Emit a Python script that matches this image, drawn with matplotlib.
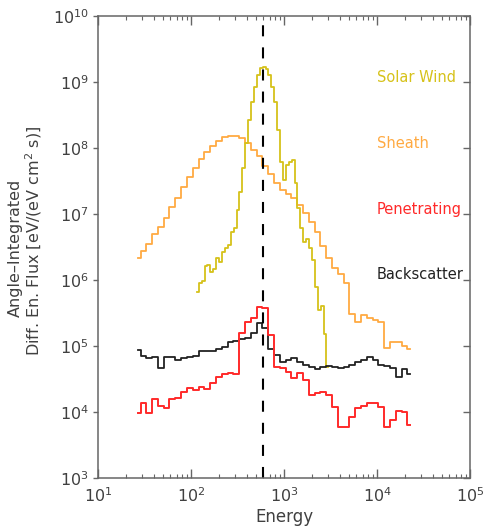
import matplotlib
matplotlib.use('Agg')
import matplotlib.pyplot as plt
from matplotlib.ticker import LogLocator, NullLocator, NullFormatter

# energy table (eV) shared by sheath, penetrating and backscatter
energy = [26.6, 30.7, 35.4, 40.9, 47.2, 54.5, 62.9, 72.7, 83.9, 96.8,
          111.8, 129.1, 149.0, 172.0, 198.6, 229.2, 264.6, 305.5, 352.6, 407.1,
          469.9, 542.6, 626.2, 723.0, 834.7, 963.6, 1112, 1284, 1483, 1712,
          1976, 2281, 2634, 3040, 3510, 4052, 4677, 5399, 6233, 7196,
          8308, 9590, 11070, 12780, 14750, 17030, 19670, 22700]

sheath = [2.18e6, 2.78e6, 3.51e6, 4.97e6, 6.42e6, 8.61e6, 1.26e7, 1.73e7, 2.54e7, 3.60e7,
          5.03e7, 6.81e7, 8.61e7, 1.08e8, 1.26e8, 1.45e8, 1.54e8, 1.52e8, 1.42e8, 1.18e8,
          9.33e7, 7.49e7, 5.39e7, 4.04e7, 2.98e7, 2.27e7, 2.01e7, 1.72e7, 1.37e7, 1.05e7,
          7.64e6, 5.39e6, 3.27e6, 2.13e6, 1.50e6, 1.23e6, 8.91e5, 3.05e5, 2.33e5, 2.95e5,
          2.63e5, 2.48e5, 2.33e5, 9.22e4, 1.13e5, 1.16e5, 1.00e5, 9.00e4]

penetrating = [9.75e3, 1.38e4, 9.75e3, 1.56e4, 1.23e4, 1.14e4, 1.56e4, 1.61e4, 2.03e4, 2.29e4,
               2.15e4, 2.42e4, 2.21e4, 2.72e4, 3.43e4, 3.77e4, 3.94e4, 3.77e4, 1.56e5, 2.33e5,
               2.65e5, 3.94e5, 3.72e5, 1.47e5, 4.85e4, 4.59e4, 4.08e4, 3.24e4, 3.86e4, 3.05e4,
               1.81e4, 1.92e4, 2.03e4, 1.81e4, 1.20e4, 5.98e3, 5.98e3, 8.49e3, 1.14e4, 1.23e4,
               1.38e4, 1.38e4, 1.20e4, 5.98e3, 7.56e3, 1.05e4, 1.01e4, 6.35e3]

backscatter = [8.70e4, 7.05e4, 6.51e4, 6.74e4, 4.59e4, 6.74e4, 6.88e4, 6.14e4, 6.51e4, 6.74e4,
               7.05e4, 8.49e4, 8.40e4, 8.49e4, 8.91e4, 9.75e4, 1.16e5, 1.20e5, 1.26e5, 1.31e5,
               1.60e5, 2.21e5, 1.89e5, 8.91e4, 7.31e4, 5.78e4, 6.14e4, 6.51e4, 5.78e4, 5.15e4,
               4.85e4, 4.49e4, 4.85e4, 4.98e4, 4.75e4, 4.59e4, 4.85e4, 5.15e4, 5.78e4, 6.14e4,
               6.74e4, 6.14e4, 5.15e4, 4.98e4, 4.59e4, 3.36e4, 4.44e4, 3.72e4]

# solar wind uses a finer energy table
sw_energy = [116.9, 125.6, 134.9, 145.0, 155.8, 167.4, 179.8, 193.2, 207.7, 223.1,
             239.7, 257.6, 276.7, 297.4, 319.5, 343.4, 368.9, 396.4, 425.9, 457.6,
             491.7, 528.4, 567.7, 610.0, 655.5, 704.3, 756.8, 813.2, 873.8, 938.9,
             1009, 1084, 1165, 1252, 1345, 1445, 1552, 1668, 1792, 1926,
             2069, 2223, 2389, 2567, 2758, 2963]

solar_wind = [6.65e5, 8.90e5, 9.70e5, 1.63e6, 1.66e6, 1.32e6, 1.47e6, 2.13e6, 1.87e6, 2.66e6,
              3.02e6, 3.39e6, 5.33e6, 6.13e6, 1.15e7, 2.15e7, 4.92e7, 1.18e8, 2.66e8, 5.03e8,
              8.49e8, 1.28e9, 1.65e9, 1.71e9, 1.57e9, 1.28e9, 8.49e8, 5.03e8, 1.87e8, 6.20e7,
              3.27e7, 5.52e7, 6.20e7, 6.58e7, 2.92e7, 1.22e7, 6.13e6, 3.80e6, 4.14e6, 3.02e6,
              2.01e6, 7.90e5, 3.51e5, 4.04e5, 1.52e5, 4.85e4]

e_ref = 600

c_sw = '#d6c21a'
c_sh = '#ffaa42'
c_pen = '#ff2a2a'
c_bs = '#222222'
axc = '#666666'
txtc = '#404040'

plt.rcParams['font.family'] = 'DejaVu Sans'
plt.rcParams['mathtext.fontset'] = 'dejavusans'

fig = plt.figure(figsize=(4.84, 5.27), dpi=100)
ax = fig.add_axes([0.2025, 0.093, 0.7686, 0.8767])

ax.plot(energy, sheath, drawstyle='steps-mid', color=c_sh, lw=1.3)
ax.plot(sw_energy, solar_wind, drawstyle='steps-mid', color=c_sw, lw=1.3)
ax.plot(energy, backscatter, drawstyle='steps-mid', color=c_bs, lw=1.3)
ax.plot(energy, penetrating, drawstyle='steps-mid', color=c_pen, lw=1.4)
ax.axvline(e_ref, color='black', lw=1.5, ls=(0, (5.3, 5.3)))

ax.set_xscale('log')
ax.set_yscale('log')
ax.set_xlim(10, 1e5)
ax.set_ylim(1e3, 1e10)

for s in ax.spines.values():
    s.set_color(axc)
    s.set_linewidth(1.1)

ax.xaxis.set_major_locator(LogLocator(base=10, numticks=10))
ax.xaxis.set_minor_locator(LogLocator(base=10, subs=range(2, 10), numticks=50))
ax.xaxis.set_minor_formatter(NullFormatter())
ax.tick_params(axis='x', which='major', direction='in', length=6.5, width=1,
               top=True, color=axc, labelcolor=txtc, labelsize=11.5, pad=6)
ax.tick_params(axis='x', which='minor', direction='in', length=3.2, width=0.8,
               top=True, color=axc)

ax.yaxis.set_major_locator(LogLocator(base=10, numticks=10))
ax.yaxis.set_minor_locator(NullLocator())
ax.tick_params(axis='y', which='major', direction='out', length=3.6, width=1,
               left=True, right=False, color=axc, labelcolor=txtc, labelsize=11.5, pad=3)

# right-hand ticks point inward, unlike the left ones
rax = ax.twinx()
rax.set_yscale('log')
rax.set_ylim(ax.get_ylim())
rax.yaxis.set_major_locator(LogLocator(base=10, numticks=10))
rax.yaxis.set_minor_locator(NullLocator())
rax.yaxis.set_major_formatter(NullFormatter())
rax.tick_params(axis='y', direction='in', length=5, width=1, color=axc)
for s in rax.spines.values():
    s.set_visible(False)

ax.set_xlabel('Energy', fontsize=12, color=txtc, labelpad=2)

fig.text(15 / 484, 1 - 248 / 527, 'Angle\u2013Integrated', rotation=90,
         ha='center', va='center', fontsize=11.5, color=txtc)
fig.text(34 / 484, 1 - 241 / 527, 'Diff. En. Flux [eV/(eV cm$^2$ s)]', rotation=90,
         ha='center', va='center', fontsize=11.5, color=txtc)

labels = ['Solar Wind', 'Sheath', 'Penetrating', 'Backscatter']
label_colors = [c_sw, c_sh, c_pen, c_bs]
label_y = [0.866, 0.7245, 0.5816, 0.4394]
for name, col, yy in zip(labels, label_colors, label_y):
    ax.text(0.749, yy, name, transform=ax.transAxes, color=col,
            fontsize=10.5, ha='left', va='center')

fig.savefig('out.png', dpi=100)
